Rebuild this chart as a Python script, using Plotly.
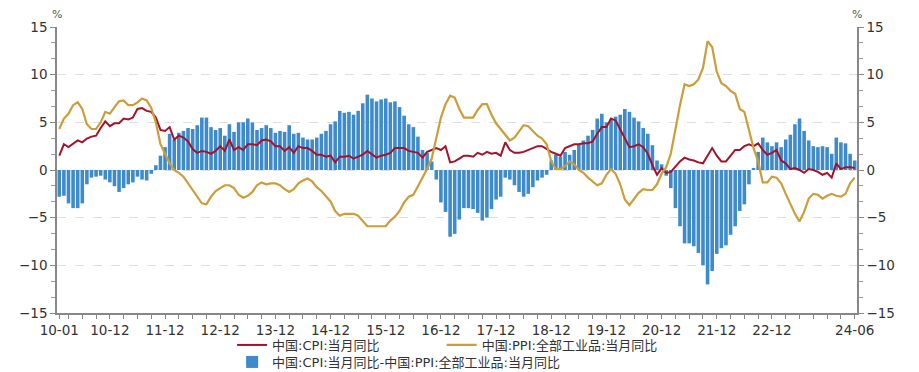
import plotly.graph_objects as go

# Monthly labels 2010-01 .. 2024-06
months = [f"{y:02d}-{m:02d}" for y in range(10, 25) for m in range(1, 13)]
months = months[: months.index("24-06") + 1]

cpi = [
    1.5, 2.7, 2.4, 2.8, 3.1, 2.9, 3.3, 3.5, 3.6, 4.4, 5.1, 4.6,
    4.9, 4.9, 5.4, 5.3, 5.5, 6.4, 6.5, 6.2, 6.1, 5.5, 4.2, 4.1,
    4.5, 3.2, 3.6, 3.4, 3.0, 2.2, 1.8, 2.0, 1.9, 1.7, 2.0, 2.5,
    2.0, 3.2, 2.1, 2.4, 2.1, 2.7, 2.7, 2.6, 3.1, 3.2, 3.0, 2.5,
    2.5, 2.0, 2.4, 1.8, 2.5, 2.3, 2.3, 2.0, 1.6, 1.6, 1.4, 1.5,
    0.8, 1.4, 1.4, 1.5, 1.2, 1.4, 1.6, 2.0, 1.6, 1.3, 1.5, 1.6,
    1.8, 2.3, 2.3, 2.3, 2.0, 1.9, 1.8, 1.3, 1.9, 2.1, 2.3, 2.1,
    2.5, 0.8, 0.9, 1.2, 1.5, 1.5, 1.4, 1.8, 1.6, 1.9, 1.7, 1.8,
    1.5, 2.9, 2.1, 1.8, 1.8, 1.9, 2.1, 2.3, 2.5, 2.5, 2.2, 1.9,
    1.7, 1.5, 2.3, 2.5, 2.7, 2.7, 2.8, 2.8, 3.0, 3.8, 4.5, 4.5,
    5.4, 5.2, 4.3, 3.3, 2.4, 2.5, 2.7, 2.4, 1.7, 0.5, -0.5, 0.2,
    -0.3, -0.2, 0.4, 0.9, 1.3, 1.1, 1.0, 0.8, 0.7, 1.5, 2.3, 1.5,
    0.9, 0.9, 1.5, 2.1, 2.1, 2.5, 2.7, 2.5, 2.8, 2.1, 1.6, 1.8,
    2.1, 1.0, 0.7, 0.1, 0.2, 0.0, -0.3, 0.1, 0.0, -0.2, -0.5, -0.3,
    -0.8, 0.7, 0.1, 0.3, 0.3, 0.2,
]

ppi = [
    4.3, 5.4, 5.9, 6.8, 7.1, 6.4, 4.8, 4.3, 4.3, 5.0, 6.1, 5.9,
    6.6, 7.2, 7.3, 6.8, 6.8, 7.1, 7.5, 7.3, 6.5, 5.0, 2.7, 1.7,
    0.7, 0.0, -0.3, -0.7, -1.4, -2.1, -2.9, -3.5, -3.6, -2.8, -2.2, -1.9,
    -1.6, -1.6, -1.9, -2.6, -2.9, -2.7, -2.3, -1.6, -1.3, -1.5, -1.4, -1.4,
    -1.6, -2.0, -2.3, -2.0, -1.4, -1.1, -0.9, -1.2, -1.8, -2.2, -2.7, -3.3,
    -4.3, -4.8, -4.6, -4.6, -4.6, -4.8, -5.4, -5.9, -5.9, -5.9, -5.9, -5.9,
    -5.3, -4.9, -4.3, -3.4, -2.8, -2.6, -1.7, -0.8, 0.1, 1.2, 3.3, 5.5,
    6.9, 7.8, 7.6, 6.4, 5.5, 5.5, 5.5, 6.3, 6.9, 6.9, 5.8, 4.9,
    4.3, 3.7, 3.1, 3.4, 4.1, 4.7, 4.6, 4.1, 3.6, 3.3, 2.7, 0.9,
    0.1, 0.1, 0.4, 0.9, 0.6, 0.0, -0.3, -0.8, -1.2, -1.6, -1.4, -0.5,
    0.1, -0.4, -1.5, -3.1, -3.7, -3.0, -2.4, -2.0, -2.1, -2.1, -1.5, -0.4,
    0.3, 1.7, 4.4, 6.8, 9.0, 8.8, 9.0, 9.5, 10.7, 13.5, 12.9, 10.3,
    9.1, 8.8, 8.3, 8.0, 6.4, 6.1, 4.2, 2.3, 0.9, -1.3, -1.3, -0.7,
    -0.8, -1.4, -2.5, -3.6, -4.6, -5.4, -4.4, -3.0, -2.5, -2.6, -3.0, -2.7,
    -2.5, -2.7, -2.8, -2.5, -1.4, -0.8,
]

# Spread series: CPI YoY minus PPI YoY (definition of the bar series)
spread = [round(c - p, 1) for c, p in zip(cpi, ppi)]

label_months = ["10-01"] + [f"{y:02d}-12" for y in range(10, 23)] + ["24-06"]
tick_months = ["10-01"] + [m for m in months if int(m[3:]) % 3 == 0]
tick_text = [m if m in label_months else "" for m in tick_months]

y_ticks = [-15, -10, -5, 0, 5, 10, 15]

FONT = "DejaVu Sans, Noto Sans CJK SC, sans-serif"
RED = "#A3132B"
GOLD = "#CC9E3A"
BLUE = "#3E8BCB"

fig = go.Figure()
fig.add_trace(go.Bar(
    x=months, y=spread, name="中国:CPI:当月同比-中国:PPI:全部工业品:当月同比",
    marker=dict(color=BLUE, line=dict(width=0)), legend="legend2",
))
fig.add_trace(go.Scatter(
    x=months, y=cpi, name="中国:CPI:当月同比", mode="lines",
    line=dict(color=RED, width=2), legend="legend",
))
fig.add_trace(go.Scatter(
    x=months, y=ppi, name="中国:PPI:全部工业品:当月同比", mode="lines",
    line=dict(color=GOLD, width=2.2), legend="legend3",
))
fig.add_trace(go.Scatter(
    x=months, y=cpi, yaxis="y2", mode="lines", showlegend=False,
    line=dict(width=0), hoverinfo="skip", opacity=0,
))

axis_common = dict(
    range=[-15, 15], tickvals=y_ticks, ticks="outside", ticklen=5,
    tickcolor="#888", linecolor="#888", showline=True, linewidth=1.5,
    tickfont=dict(size=13.5, color="#333", family=FONT),
    minor=dict(dtick=5 / 3, tick0=0, ticks="outside", ticklen=4,
               tickcolor="#999", showgrid=False),
    zeroline=False,
)

legend_font = dict(size=13, color="#333", family=FONT)
legend_common = dict(
    orientation="h", xanchor="left", xref="container", yref="container",
    yanchor="middle", font=legend_font, bgcolor="rgba(0,0,0,0)",
)

fig.update_layout(
    width=911, height=364,
    margin=dict(l=49, r=62, t=19, b=59, autoexpand=False),
    paper_bgcolor="white", plot_bgcolor="white",
    font=dict(family=FONT, color="#333"),
    bargap=0.22,
    xaxis=dict(
        type="category", categoryorder="array", categoryarray=months,
        tickmode="array", tickvals=tick_months, ticktext=tick_text,
        tickangle=0,
        ticks="outside", ticklen=4, tickcolor="#888",
        showline=True, linecolor="#888", linewidth=1.5,
        tickfont=dict(size=13.5, color="#333", family=FONT),
        showgrid=False, range=[-0.5, len(months) - 0.5],
    ),
    yaxis=dict(
        **axis_common, showgrid=True, gridcolor="#dedede", griddash="dash",
        gridwidth=1,
    ),
    yaxis2=dict(
        **axis_common, overlaying="y", side="right", showgrid=False,
    ),
    legend=dict(**legend_common, x=0.246, y=0.0742),
    legend3=dict(**legend_common, x=0.476, y=0.0742),
    legend2=dict(**legend_common, x=0.246, y=0.0275),
    showlegend=True,
    annotations=[
        dict(text="%", xref="paper", yref="paper", x=0, y=1, xanchor="center",
             yanchor="bottom", yshift=4, showarrow=False,
             font=dict(size=11, color="#555", family=FONT)),
        dict(text="%", xref="paper", yref="paper", x=1, y=1, xanchor="center",
             yanchor="bottom", yshift=4, showarrow=False,
             font=dict(size=11, color="#555", family=FONT)),
    ],
)

fig.write_html("out.html")
